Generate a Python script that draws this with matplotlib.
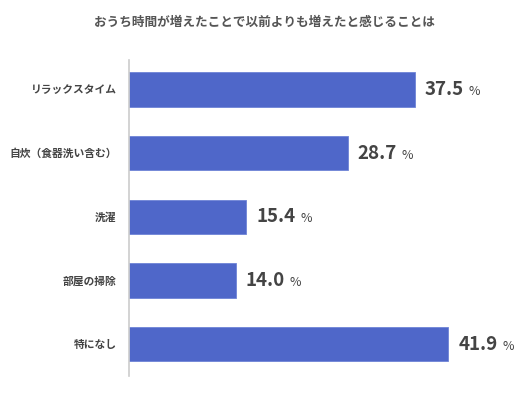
import matplotlib
matplotlib.use("Agg")
import matplotlib.pyplot as plt
from matplotlib.transforms import offset_copy

plt.rcParams['font.family'] = ['Noto Sans CJK JP', 'DejaVu Sans']

title = 'おうち時間が増えたことで以前よりも増えたと感じることは'
categories = ['リラックスタイム', '自炊（食器洗い含む）', '洗濯', '部屋の掃除', '特になし']
values = [37.5, 28.7, 15.4, 14.0, 41.9]

bar_color = '#4f67c9'
text_color = '#444444'

fig = plt.figure(figsize=(5.29, 3.97), dpi=100)
ax = fig.add_axes([129 / 529, 21 / 397, 391 / 529, 316 / 397])

y = list(range(len(categories)))
ax.barh(y, values, height=0.54, color=bar_color, edgecolor='#6f84d6', linewidth=0.6)
ax.set_xlim(0, 51.3)
ax.set_ylim(4.5, -0.46)

ax.set_yticks(y)
ax.set_yticklabels(categories, fontsize=7.75, fontweight='bold', color=text_color)
ax.tick_params(axis='y', length=0, pad=9)
ax.set_xticks([])
for s in ['top', 'right', 'bottom']:
    ax.spines[s].set_visible(False)
ax.spines['left'].set_color('#cccccc')
ax.spines['left'].set_linewidth(1.2)

fig.canvas.draw()
renderer = fig.canvas.get_renderer()
for yi, v in zip(y, values):
    t = ax.text(v, yi, '{:.1f}'.format(v), transform=offset_copy(ax.transData, fig=fig, x=10, y=0, units='dots'),
                fontsize=13.5, fontweight='bold', color=text_color, va='center', ha='left')
    bb = t.get_window_extent(renderer)
    ax.annotate('%', xy=(bb.x1 + 5, bb.y0 + 1), xycoords='figure pixels',
                fontsize=9, color=text_color, va='bottom', ha='left')

fig.text(0.5, 1 - 22 / 397, title, ha='center', va='center', fontsize=9.1, fontweight='bold', color='#555555')

fig.savefig('out.png', dpi=100)
